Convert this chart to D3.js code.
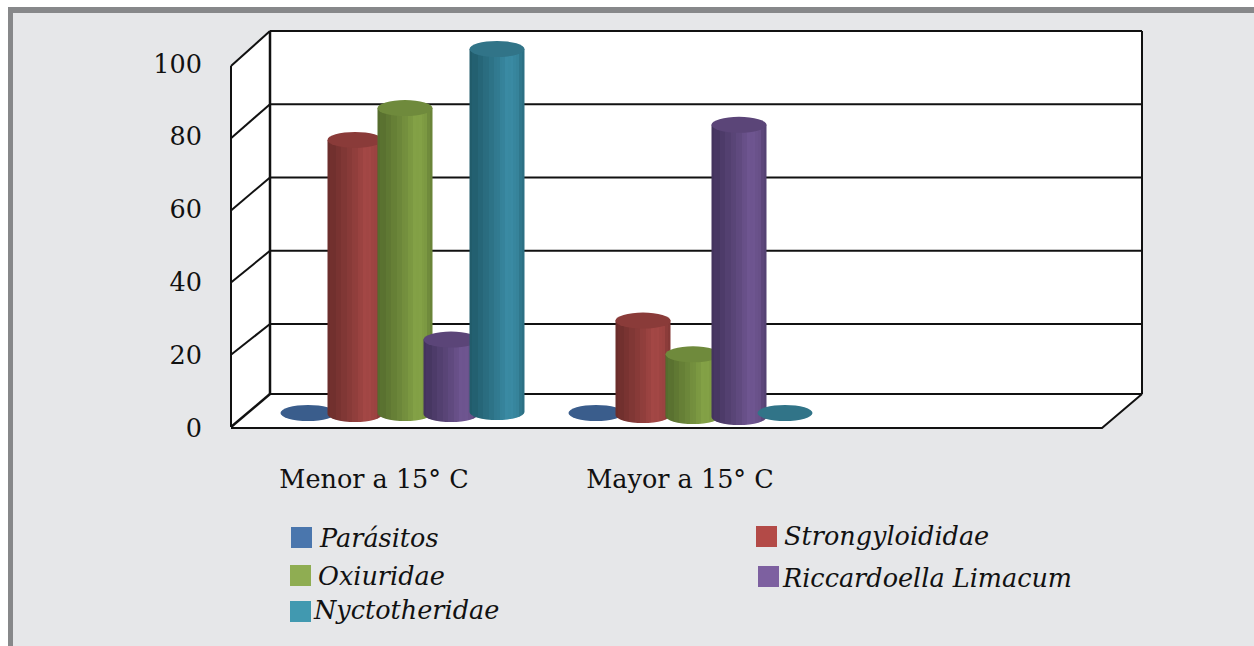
<!DOCTYPE html>
<html><head><meta charset="utf-8">
<script src="https://cdn.jsdelivr.net/npm/d3@7/dist/d3.min.js"></script>
<style>html,body{margin:0;padding:0;background:#fff;overflow:hidden}svg{display:block}
text{font-family:"DejaVu Serif",serif;fill:#111}</style>
</head><body><svg id="c" width="1254" height="646"></svg>
<script>
const categories=["Menor a 15° C","Mayor a 15° C"];
const seriesNames=["Parásitos","Strongyloididae","Oxiuridae","Riccardoella Limacum","Nyctotheridae"];
const parasitos=[0,0];
const strongyloididae=[75.5,26];
const oxiuridae=[84,17];
const riccardoella=[20.5,80.5];
const nyctotheridae=[100,0];
const yTicks=[0,20,40,60,80,100];
const bodyDark=["#35557f","#6d2e2c","#566d2e","#44345e","#215c6c"];
const bodyLight=["#3d6291","#a44745","#84a246","#6f5691","#3a8ba4"];
const topColor=["#3a5d8c","#8a3b39","#6f8a3c","#5b4578","#317488"];
const legendColor=["#4a76ad","#b34a47","#8fad52","#7d60a0","#4199b0"];
const seriesValues=[parasitos,strongyloididae,oxiuridae,riccardoella,nyctotheridae];

const svg=d3.select("#c");
svg.append("rect").attr("x",8).attr("y",7).attr("width",1246).attr("height",639).attr("fill","#87888a");
svg.append("rect").attr("x",13).attr("y",13).attr("width",1241).attr("height",633).attr("fill","#e6e7e9");

const yFront=d3.scaleLinear().domain([0,100]).range([427,66]);
const yBack=d3.scaleLinear().domain([0,20,100]).range([394,324,31]);
const yLabel=d3.scaleLinear().domain([0,100]).range([427,63]);
const X0=231,X1=270,X2=1142,X3=1102;
const line=d3.line();
svg.append("path").attr("d",line([[X0,yFront(100)],[X1,yBack(100)],[X2,yBack(100)],[X2,yBack(0)],[X3,428],[X0,428]])+"Z").attr("fill","#fff");
const grid=svg.append("g").attr("stroke","#111").attr("fill","none");
yTicks.forEach(t=>{
  grid.append("line").attr("x1",X1).attr("x2",X2).attr("y1",yBack(t)).attr("y2",yBack(t)).attr("stroke-width",2);
  grid.append("line").attr("x1",X0).attr("x2",X1).attr("y1",yFront(t)).attr("y2",yBack(t)).attr("stroke-width",t===0?2.5:2);
});
grid.append("line").attr("x1",X1).attr("x2",X1).attr("y1",yBack(100)).attr("y2",yBack(0)).attr("stroke-width",2.5);
grid.append("line").attr("x1",X0).attr("x2",X0).attr("y1",yFront(100)).attr("y2",yFront(0)).attr("stroke-width",2);
grid.append("line").attr("x1",X2).attr("x2",X2).attr("y1",yBack(100)).attr("y2",yBack(0)).attr("stroke-width",2);
grid.append("path").attr("d",line([[X0,428],[X3,428],[X2,yBack(0)]])).attr("stroke-width",2);

const axis=d3.axisLeft(yLabel).tickValues(yTicks).tickSize(0).tickPadding(0);
const ga=svg.append("g").attr("transform","translate(202,0)").call(axis);
ga.select(".domain").remove();
ga.selectAll("text").style("font-size","25.5px").attr("fill","#111").attr("dy","0.36em");

const xCat=d3.scalePoint().domain(categories).range([308,596]);
const xSer=d3.scaleOrdinal().domain(seriesNames).range([0,47,97,143,189]);
const baseDrift=[[-1,0,-1,0,-2],[-1,1,2,3,-1]];
const rx=27.5,ry=8,baseY=414;
const hScale=d3.scaleLinear().domain([0,100]).range([0,363]);
const defs=svg.append("defs");
const profile=[[0,0],[.12,.1],[.3,.35],[.45,.55],[.7,1],[.85,.9],[1,.3]];
const prof=d3.scaleLinear().domain(profile.map(p=>p[0])).range(profile.map(p=>p[1]));
const bands=20;
seriesNames.forEach((s,i)=>{
  const mix=d3.interpolateRgb(bodyDark[i],bodyLight[i]);
  const g=defs.append("linearGradient").attr("id","g"+i);
  d3.range(bands).forEach(b=>{
    const col=mix(prof((b+.5)/bands)+(b%2?.03:-.03));
    g.append("stop").attr("offset",b/bands).attr("stop-color",col);
    g.append("stop").attr("offset",(b+1)/bands).attr("stop-color",col);
  });
});
const bars=svg.append("g");
seriesNames.forEach((s,i)=>{
  categories.forEach((c,k)=>{
    const v=seriesValues[i][k];
    const base=baseY+baseDrift[k][i];
    const cx=xCat(c)+xSer(s), top=base-hScale(v);
    if(v>0){
      bars.append("path")
        .attr("d",`M${cx-rx},${top}L${cx-rx},${base}A${rx},${ry} 0 0 0 ${cx+rx},${base}L${cx+rx},${top}Z`)
        .attr("fill",`url(#g${i})`);
    }
    bars.append("ellipse").attr("cx",cx).attr("cy",top).attr("rx",rx).attr("ry",ry).attr("fill",topColor[i]);
  });
});

const catX=d3.scaleOrdinal().domain(categories).range([374,680]);
svg.append("g").selectAll("text").data(categories).join("text")
  .attr("x",d=>catX(d)).attr("y",488).attr("text-anchor","middle").style("font-size","25.5px").text(d=>d);

const legendPos=[[291,527,320,547],[756,526,784,545],[290,565,318,585],[758,566,783,587],[290,601,314,619]];
const lg=svg.append("g");
seriesNames.forEach((s,i)=>{
  const [sx,sy,tx,ty]=legendPos[i];
  lg.append("rect").attr("x",sx).attr("y",sy).attr("width",21).attr("height",21).attr("fill",legendColor[i]);
  lg.append("text").attr("x",tx).attr("y",ty).style("font-size","25.5px").style("font-style","italic").text(s);
});
</script></body></html>
